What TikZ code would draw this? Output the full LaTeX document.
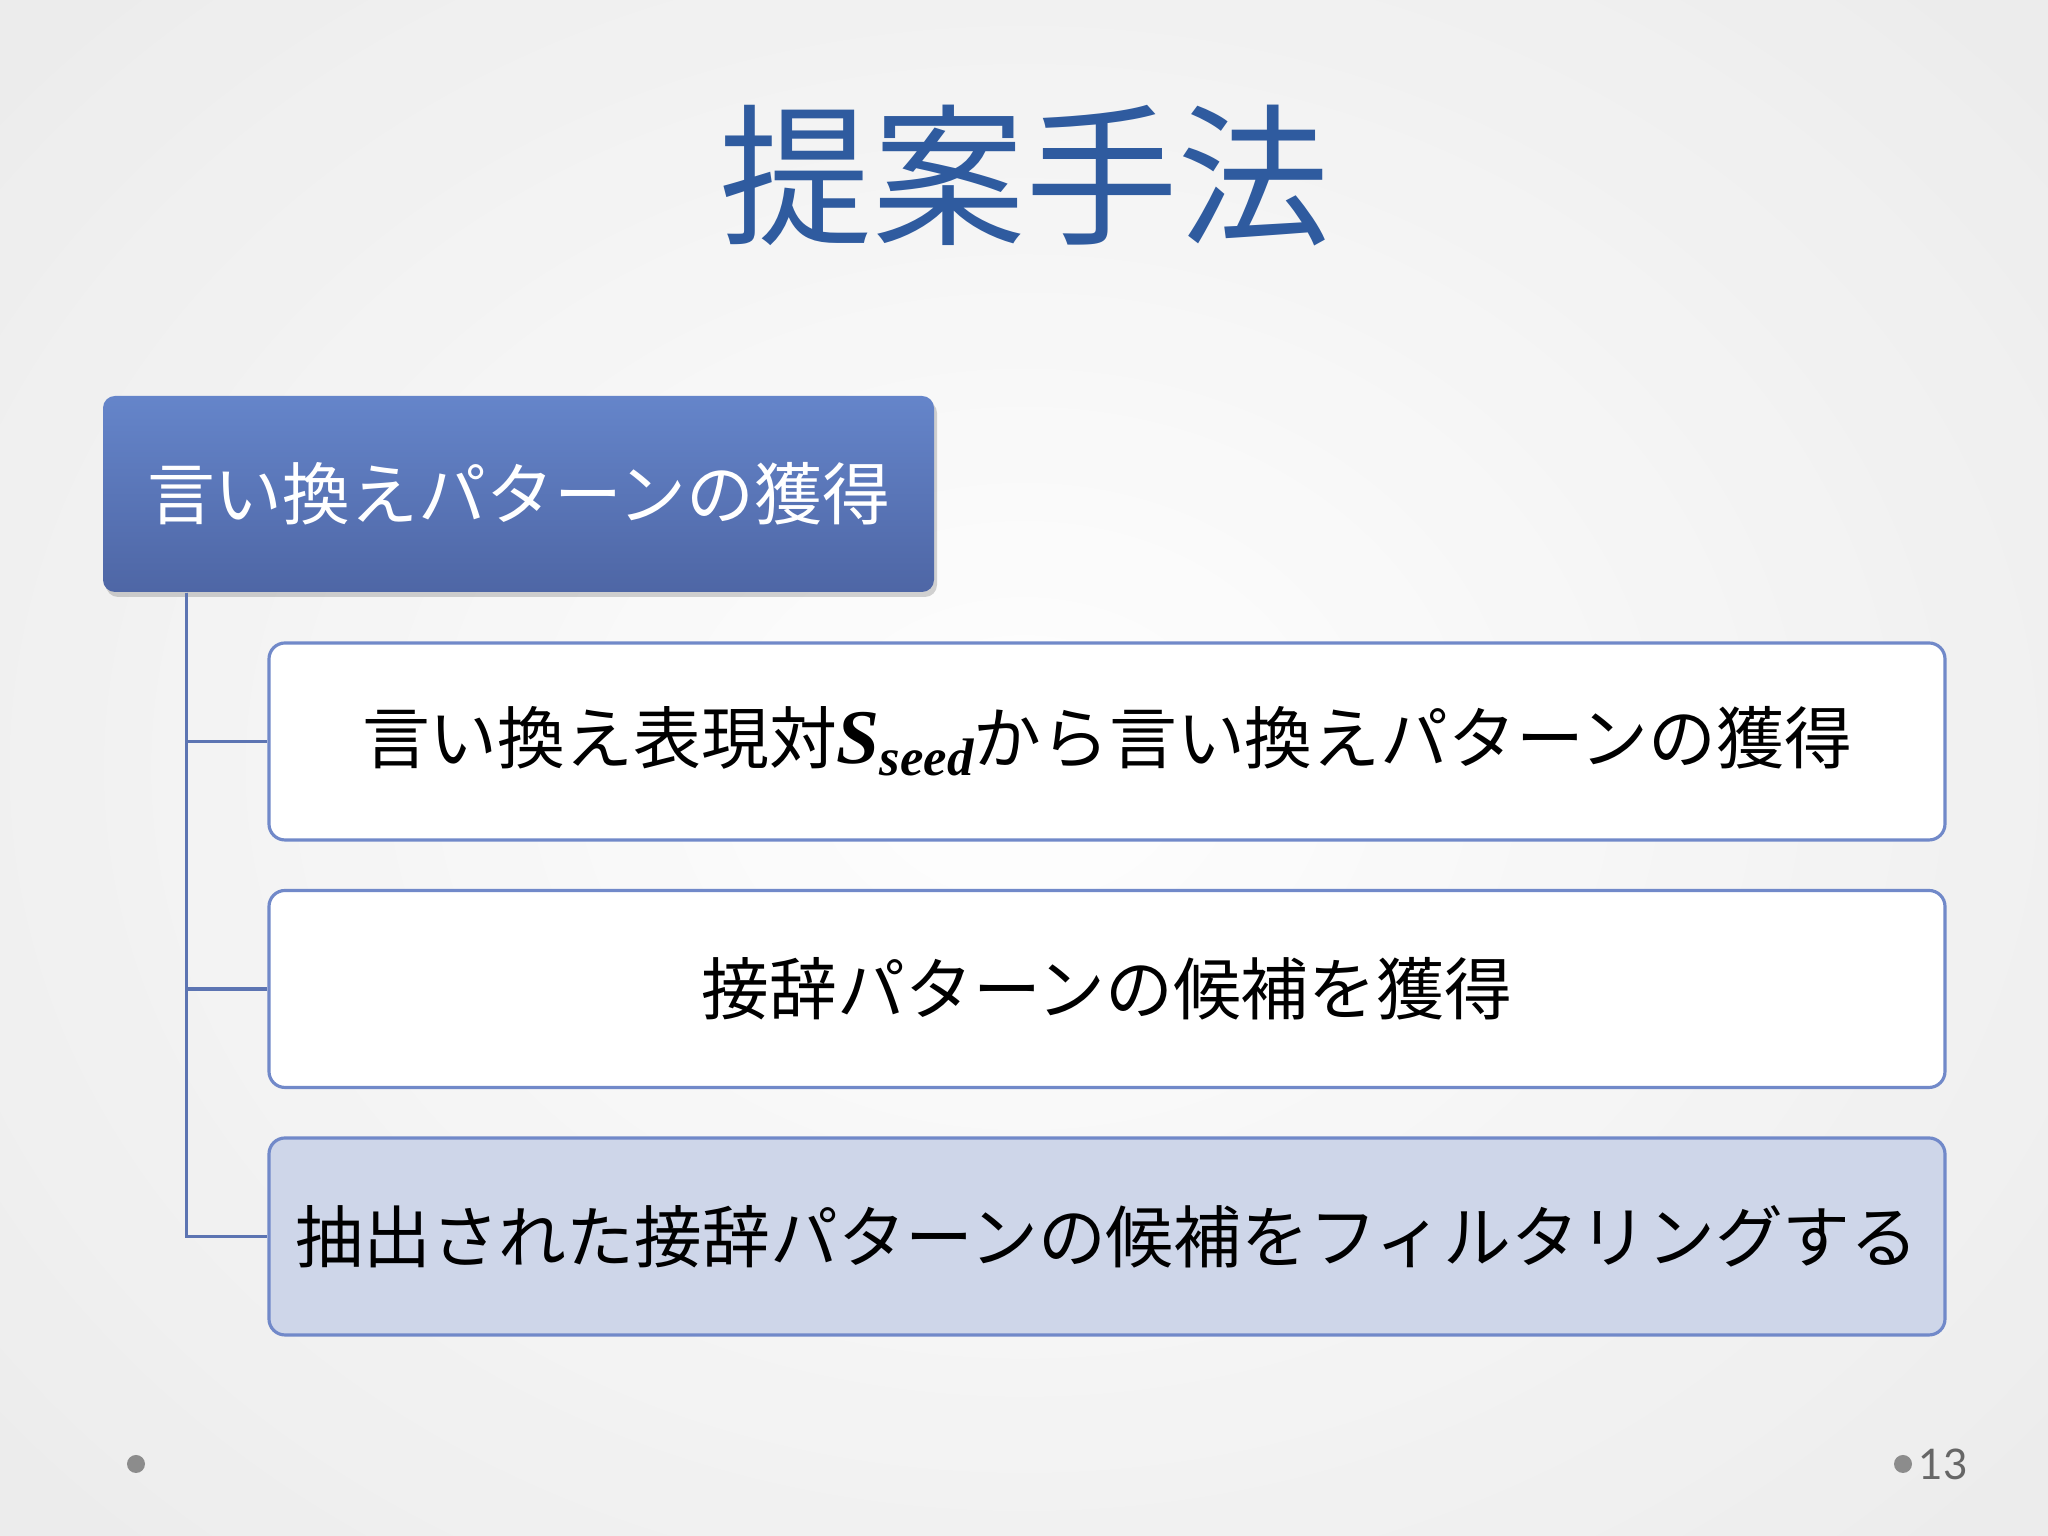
\documentclass[tikz,border=0pt]{standalone}
\usepackage{fontspec}
\setmainfont{Noto Sans CJK JP}
\newfontfamily\serifbi{Liberation Serif}
\newfontfamily\numfont{Lato}
\usetikzlibrary{shadows}
\definecolor{titleblue}{HTML}{2F5B9F}
\definecolor{topblue}{HTML}{6585CA}
\definecolor{botblue}{HTML}{4E66A5}
\definecolor{lineblue}{HTML}{5C74B2}
\definecolor{edgeblue}{HTML}{7189C9}
\definecolor{paleblue}{HTML}{CED6E9}
\tikzset{
  parentbox/.style={draw=none, rounded corners=0.12cm, top color=topblue, bottom color=botblue,
    minimum width=8.31cm, minimum height=1.96cm, text=white, font=\fontsize{19.3}{23}\selectfont,
    drop shadow={opacity=0.35, shadow xshift=0.03cm, shadow yshift=-0.05cm}},
  childbox/.style={draw=edgeblue, line width=0.9pt, rounded corners=0.16cm, fill=white,
    minimum width=16.76cm, minimum height=1.97cm, text=black, font=\fontsize{19.3}{23}\selectfont},
  branch/.style={draw=lineblue, line width=1pt},
  pagedot/.style={circle, fill=black!45, inner sep=0pt, minimum size=0.18cm}
}
\begin{document}
\begin{tikzpicture}
  \useasboundingbox (0,0) rectangle (20.48,15.36);
  \shade[inner color=white, outer color=black!11] (-3,-3) rectangle (23.48,18.36);
  \fill[white, opacity=0.35] (0,0) rectangle (20.48,15.36);

  \node[text=titleblue, font=\fontsize{43.5}{50}\selectfont] (title) at (10.25,13.60) {提案手法};

  \node[parentbox] (P) at (5.185,10.42) {言い換えパターンの獲得};
  \node[childbox] (C1) at (11.07,7.945)
    {言い換え表現対{\serifbi\bfseries\itshape\fontsize{22}{24}\selectfont S\raisebox{-0.35ex}{\fontsize{15}{16}\selectfont seed}}から言い換えパターンの獲得};
  \node[childbox] (C2) at (11.07,5.47) {接辞パターンの候補を獲得};
  \node[childbox, fill=paleblue] (C3) at (11.07,2.995) {抽出された接辞パターンの候補をフィルタリングする};

  \draw[branch] ([xshift=0.84cm]P.south west) |- (C1.west);
  \draw[branch] ([xshift=0.84cm]P.south west) |- (C2.west);
  \draw[branch] ([xshift=0.84cm]P.south west) |- (C3.west);

  \node[pagedot] (dotL) at (1.36,0.72) {};
  \node[pagedot] (dotR) at (19.03,0.72) {};
  \node[right=0pt, inner sep=0pt, text=black!60, font=\numfont\fontsize{12}{14}\selectfont] (num) at (19.18,0.72) {13};
\end{tikzpicture}
\end{document}
